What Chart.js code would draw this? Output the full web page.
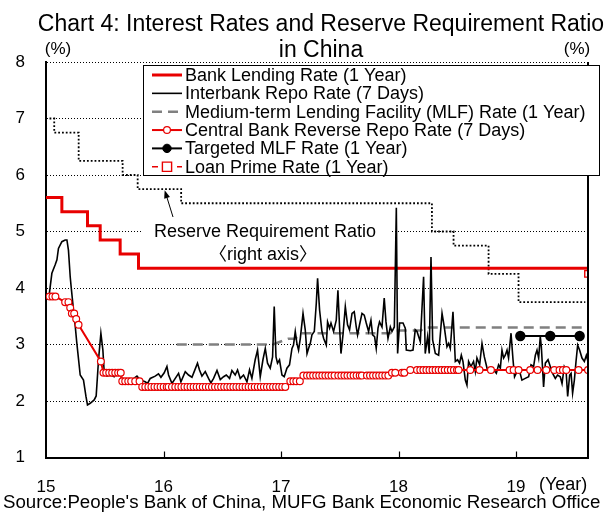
<!DOCTYPE html>
<html>
<head>
<meta charset="utf-8">
<script src="https://cdn.jsdelivr.net/npm/chart.js@4.4.1/dist/chart.umd.min.js"></script>
<style>
  html, body { margin: 0; padding: 0; background: #fff; }
  canvas { display: block; }
</style>
</head>
<body>
<canvas id="chart" width="605" height="513"></canvas>
<script>
// ---- data (x values are calendar years as decimals, 15 = Jan 2015) ----
const yearTicks = [15, 16, 17, 18, 19];
const leftTicks = [1, 2, 3, 4, 5, 6, 7, 8];

// Bank lending rate (1 year): dates of each change and the new rate
const lendingDates = [15.000, 15.135, 15.353, 15.461, 15.631, 15.787, 19.612];
const lendingRates = [5.60, 5.35, 5.10, 4.85, 4.60, 4.35, 4.35];

// Reserve requirement ratio (right axis)
const rrrDates = [15.030, 15.070, 15.278, 15.652, 15.780, 16.150, 18.284, 18.468, 18.766, 19.021, 19.589];
const rrrValues = [20.0, 19.5, 18.5, 18.0, 17.5, 17.0, 16.0, 15.5, 14.5, 13.5, 13.5];

// Interbank repo rate (7 days)
const repoDates = [
  15.027,15.050,15.078,15.093,15.106,15.135,15.163,15.178,15.191,15.206,
  15.214,15.234,15.249,15.261,15.291,15.319,15.340,15.353,15.376,15.410,
  15.427,15.447,15.467,15.484,15.495,15.518,15.546,15.580,15.597,15.626,
  15.646,15.674,15.694,15.723,15.774,15.802,15.844,15.864,15.887,15.929,
  15.957,15.978,16.006,16.029,16.043,16.072,16.100,16.128,16.148,16.185,
  16.213,16.242,16.261,16.289,16.306,16.327,16.355,16.383,16.403,16.426,
  16.455,16.483,16.511,16.534,16.562,16.582,16.610,16.630,16.653,16.681,
  16.710,16.732,16.752,16.780,16.800,16.823,16.846,16.866,16.885,16.908,
  16.928,16.942,16.957,16.970,16.987,17.008,17.027,17.050,17.072,17.093,
  17.106,17.121,17.135,17.149,17.164,17.187,17.206,17.221,17.234,17.249,
  17.263,17.283,17.300,17.311,17.328,17.348,17.362,17.385,17.396,17.413,
  17.425,17.447,17.470,17.484,17.498,17.510,17.527,17.547,17.566,17.583,
  17.604,17.623,17.640,17.651,17.668,17.689,17.708,17.725,17.745,17.765,
  17.779,17.796,17.810,17.825,17.838,17.859,17.878,17.893,17.910,17.930,
  17.944,17.964,17.981,17.992,18.009,18.038,18.057,18.066,18.100,18.123,
  18.142,18.157,18.185,18.213,18.227,18.247,18.261,18.276,18.290,18.313,
  18.341,18.370,18.389,18.412,18.426,18.440,18.463,18.483,18.502,18.519,
  18.534,18.548,18.559,18.568,18.582,18.596,18.616,18.638,18.653,18.667,
  18.690,18.710,18.730,18.753,18.781,18.809,18.832,18.851,18.866,18.880,
  18.894,18.908,18.923,18.936,18.957,18.974,18.987,19.008,19.027,19.050,
  19.078,19.107,19.127,19.149,19.164,19.178,19.192,19.206,19.215,19.234,
  19.249,19.272,19.291,19.311,19.334,19.353,19.376,19.391,19.410,19.425,
  19.439,19.456,19.468,19.481,19.496,19.510,19.524,19.541,19.561,19.581,
  19.598,19.612
];
const repoRates = [
  3.88,4.26,4.41,4.50,4.70,4.82,4.85,4.85,4.67,4.20,
  4.02,3.61,3.32,3.05,2.46,2.37,2.08,1.93,1.96,2.02,
  2.09,2.73,3.20,2.90,2.52,2.44,2.46,2.43,2.52,2.55,
  2.37,2.37,2.38,2.36,2.44,2.37,2.34,2.31,2.40,2.44,
  2.48,2.42,2.50,2.61,2.46,2.31,2.40,2.49,2.34,2.52,
  2.46,2.42,2.52,2.67,2.55,2.44,2.52,2.40,2.32,2.40,
  2.54,2.38,2.43,2.46,2.40,2.54,2.46,2.55,2.40,2.46,
  2.34,2.55,2.40,2.73,2.90,2.43,2.73,2.93,2.67,2.58,
  2.78,3.67,2.78,2.67,2.73,2.46,2.43,2.58,2.64,2.93,
  2.99,3.23,3.02,2.90,3.11,3.55,3.26,2.84,2.93,3.02,
  3.17,3.23,3.73,4.17,3.61,3.23,3.11,2.99,3.40,3.29,
  3.38,3.23,3.43,3.96,3.31,2.84,3.17,3.67,3.35,3.26,
  3.55,3.58,3.31,3.17,3.35,3.55,3.52,3.38,3.23,3.43,
  3.17,3.14,2.93,3.29,3.40,3.31,3.82,3.40,3.11,3.31,
  3.23,3.31,5.42,2.84,3.38,3.38,3.29,2.90,2.89,2.90,
  3.26,3.23,3.05,4.20,2.84,3.14,2.84,4.55,3.08,2.84,
  2.81,3.55,3.31,2.96,3.02,2.93,3.58,2.70,2.73,2.67,
  2.81,2.70,2.52,2.37,2.28,2.70,2.61,2.70,2.52,2.76,
  2.64,3.02,2.78,2.58,2.52,2.55,2.49,2.64,2.58,2.90,
  2.76,2.81,2.90,2.76,3.20,2.73,2.43,2.52,2.55,2.37,
  2.40,2.43,2.64,2.61,2.81,2.90,2.76,3.14,2.96,2.25,
  2.67,2.73,2.61,2.49,2.40,2.46,2.43,2.31,2.61,2.55,
  2.08,2.46,2.49,2.14,2.37,2.70,2.99,2.90,2.76,2.70,
  2.81,2.70
];

// Medium-term lending facility rate (1 year)
const mlfDates = [16.113, 16.930, 17.060, 17.120, 17.170, 17.930, 17.970, 18.190, 18.220, 19.612];
const mlfRates = [3.00, 3.00, 3.10, 3.10, 3.20, 3.20, 3.25, 3.25, 3.30, 3.30];

// Central bank reverse repo rate (7 days): each policy rate with its operation dates
const reverseRepoLevels = [3.85, 3.75, 3.65, 3.55, 3.45, 3.35, 2.70, 2.50, 2.35, 2.25, 2.35, 2.45, 2.50, 2.55];
const reverseRepoOps = [
  [15.030, 15.055, 15.080],
  [15.163, 15.191],
  [15.206],
  [15.220, 15.240],
  [15.257],
  [15.277],
  [15.467],
  [15.489, 15.512, 15.538, 15.563, 15.589, 15.614, 15.636],
  [15.649, 15.674, 15.700, 15.725, 15.759, 15.796],
  [15.819, 15.845, 15.871, 15.897, 15.923, 15.949, 15.975, 16.001, 16.027, 16.043,
   16.072, 16.100, 16.126, 16.152, 16.178, 16.204, 16.230, 16.256, 16.282, 16.308,
   16.334, 16.360, 16.386, 16.412, 16.438, 16.464, 16.490, 16.516, 16.542, 16.568,
   16.594, 16.620, 16.646, 16.672, 16.698, 16.724, 16.750, 16.776, 16.802, 16.828,
   16.854, 16.880, 16.906, 16.932, 16.958, 16.984, 17.010, 17.036],
  [17.079, 17.105, 17.130, 17.160],
  [17.190, 17.221, 17.247, 17.273, 17.299, 17.325, 17.351, 17.377, 17.403, 17.429,
   17.455, 17.487, 17.513, 17.539, 17.565, 17.591, 17.617, 17.643, 17.669, 17.688,
   17.731, 17.757, 17.783, 17.809, 17.835, 17.861, 17.887, 17.913],
  [17.944, 17.972, 18.029, 18.049],
  [18.100, 18.157, 18.185, 18.211, 18.237, 18.263, 18.289, 18.315, 18.341, 18.367,
   18.393, 18.419, 18.445, 18.471, 18.497, 18.511, 18.610, 18.689, 18.786, 18.945,
   18.979, 19.021, 19.120, 19.183, 19.257, 19.325, 19.370, 19.399, 19.427, 19.532,
   19.612]
];

// Targeted MLF rate (1 year)
const tmlfDates = [19.036, 19.291, 19.541];
const tmlfRates = [3.15, 3.15, 3.15];

// Loan prime rate (1 year)
const lprDates = [19.612];
const lprRates = [4.25];

// ---- helpers to build point tables ----
const pairs = (xs, ys) => xs.map((x, i) => ({ x, y: ys[i] }));
const reverseRepoPoints = reverseRepoOps.flatMap((dates, k) =>
  dates.map(x => ({ x, y: reverseRepoLevels[k] })));

const FONT = '"Liberation Sans", Arial, "Noto Sans CJK JP", sans-serif';
const RED = 'rgb(232,0,0)';
const GREY = 'rgb(128,128,128)';

Chart.defaults.font.family = FONT;
Chart.defaults.color = '#000';

const datasets = [
  { label: 'Loan Prime Rate (1 Year)', data: pairs(lprDates, lprRates), yAxisID: 'y',
    borderColor: RED, borderWidth: 1.5, borderDash: [5, 4], showLine: false,
    pointStyle: 'rect', pointRadius: 4.6, pointBorderWidth: 1.4,
    pointBackgroundColor: '#fff', pointBorderColor: RED, order: 0 },
  { label: 'Targeted MLF Rate (1 Year)', data: pairs(tmlfDates, tmlfRates), yAxisID: 'y',
    borderColor: '#000', borderWidth: 2, pointRadius: 4.2,
    pointBackgroundColor: '#000', pointBorderColor: '#000', order: 1 },
  { label: 'Central Bank Reverse Repo Rate (7 Days)', data: reverseRepoPoints, yAxisID: 'y',
    borderColor: RED, borderWidth: 2, pointRadius: 3.4, pointBorderWidth: 1.2,
    pointBackgroundColor: '#fff', pointBorderColor: RED, order: 2 },
  { label: 'Interbank Repo Rate (7 Days)', data: pairs(repoDates, repoRates), yAxisID: 'y',
    borderColor: '#000', borderWidth: 1.6, pointRadius: 0, order: 3 },
  { label: 'Medium-term Lending Facility (MLF) Rate (1 Year)', data: pairs(mlfDates, mlfRates), yAxisID: 'y',
    borderColor: GREY, borderWidth: 2.5, borderDash: [10, 6], pointRadius: 0, order: 4 },
  { label: 'Bank Lending Rate (1 Year)', data: pairs(lendingDates, lendingRates), yAxisID: 'y',
    borderColor: RED, borderWidth: 3, stepped: 'before', pointRadius: 0, order: 5 },
  { label: 'Reserve Requirement Ratio', data: pairs(rrrDates, rrrValues), yAxisID: 'y2',
    borderColor: '#000', borderWidth: 1.8, borderDash: [1.8, 2], stepped: 'before',
    pointRadius: 0, order: 6 }
];

const legendOrder = [
  'Bank Lending Rate (1 Year)',
  'Interbank Repo Rate (7 Days)',
  'Medium-term Lending Facility (MLF) Rate (1 Year)',
  'Central Bank Reverse Repo Rate (7 Days)',
  'Targeted MLF Rate (1 Year)',
  'Loan Prime Rate (1 Year)'
];

function drawMarker(ctx, ds, x, y) {
  ctx.save();
  ctx.setLineDash([]);
  ctx.lineWidth = ds.pointBorderWidth || 1;
  ctx.strokeStyle = ds.pointBorderColor;
  ctx.fillStyle = ds.pointBackgroundColor;
  const r = ds.pointRadius;
  ctx.beginPath();
  if (ds.pointStyle === 'rect') {
    ctx.rect(x - r, y - r, 2 * r, 2 * r);
  } else {
    ctx.arc(x, y, r, 0, Math.PI * 2);
  }
  ctx.fill();
  ctx.stroke();
  ctx.restore();
}

const decor = {
  id: 'decor',
  beforeDatasetsDraw(chart) {
    // white panel behind the reserve-ratio note
    const { ctx } = chart;
    ctx.save();
    ctx.fillStyle = '#fff';
    ctx.fillRect(143, 214, 248, 50);
    ctx.restore();
  },
  afterDatasetsDraw(chart) {
    const { ctx, chartArea: a, scales } = chart;
    ctx.save();

    // right frame line
    ctx.strokeStyle = '#000';
    ctx.lineWidth = 2;
    ctx.beginPath();
    ctx.moveTo(a.right, a.top);
    ctx.lineTo(a.right, a.bottom + 1);
    ctx.stroke();

    // year ticks pointing into the plot
    ctx.lineWidth = 1.2;
    yearTicks.slice(1).forEach(t => {
      const x = Math.round(scales.x.getPixelForValue(t)) + 0.5;
      ctx.beginPath();
      ctx.moveTo(x, a.bottom);
      ctx.lineTo(x, a.bottom - 6);
      ctx.stroke();
    });

    // note for the reserve requirement ratio
    ctx.fillStyle = '#000';
    ctx.font = '18px ' + FONT;
    ctx.textAlign = 'center';
    ctx.textBaseline = 'middle';
    ctx.fillText('Reserve Requirement Ratio', 265, 232);
    ctx.fillText('〈right axis〉', 263, 255);

    // arrow to the ratio line
    const tipX = scales.x.getPixelForValue(16.01);
    const tipY = scales.y2.getPixelForValue(17.5) + 1;
    const fromX = 173, fromY = 217;
    const ang = Math.atan2(tipY - fromY, tipX - fromX);
    ctx.lineWidth = 1;
    ctx.beginPath();
    ctx.moveTo(fromX, fromY);
    ctx.lineTo(tipX - 5 * Math.cos(ang), tipY - 5 * Math.sin(ang));
    ctx.stroke();
    ctx.beginPath();
    ctx.moveTo(tipX, tipY);
    ctx.lineTo(tipX - 8 * Math.cos(ang) + 3 * Math.sin(ang), tipY - 8 * Math.sin(ang) - 3 * Math.cos(ang));
    ctx.lineTo(tipX - 8 * Math.cos(ang) - 3 * Math.sin(ang), tipY - 8 * Math.sin(ang) + 3 * Math.cos(ang));
    ctx.closePath();
    ctx.fill();

    // legend panel
    const bx = 143.5, by = 65.5, bw = 456, bh = 110;
    ctx.fillStyle = '#fff';
    ctx.fillRect(bx, by, bw, bh);
    ctx.strokeStyle = '#000';
    ctx.lineWidth = 1;
    ctx.strokeRect(bx, by, bw, bh);

    ctx.textAlign = 'left';
    ctx.font = '18px ' + FONT;
    legendOrder.forEach((label, i) => {
      const ds = chart.data.datasets.find(d => d.label === label);
      const y = 75 + i * 18.35;
      const x0 = 152, x1 = 182, xm = (x0 + x1) / 2;
      ctx.save();
      ctx.strokeStyle = ds.borderColor;
      ctx.lineWidth = ds.borderWidth;
      ctx.setLineDash(ds.borderDash || []);
      ctx.beginPath();
      if (ds.pointStyle === 'rect') {
        ctx.setLineDash([]);
        ctx.moveTo(x0, y); ctx.lineTo(x0 + 6, y);
        ctx.moveTo(x1 - 5, y); ctx.lineTo(x1, y);
      } else {
        ctx.moveTo(x0, y); ctx.lineTo(x1, y);
      }
      ctx.stroke();
      ctx.restore();
      if (ds.pointRadius > 0) {
        drawMarker(ctx, ds, xm, y);
      }
      ctx.fillStyle = '#000';
      ctx.fillText(label, 185, y + 1);
    });

    ctx.restore();
  },
  afterDraw(chart) {
    const { ctx } = chart;
    ctx.save();
    ctx.fillStyle = '#000';
    ctx.textBaseline = 'alphabetic';

    // title
    ctx.textAlign = 'center';
    ctx.font = '23px ' + FONT;
    ctx.fillText('Chart 4: Interest Rates and Reserve Requirement Ratio', 321, 31);
    ctx.fillText('in China', 321, 57);

    // unit labels
    ctx.font = '17px ' + FONT;
    ctx.fillText('(%)', 58, 54);
    ctx.fillText('(%)', 577, 54);

    // year marker and source
    ctx.textAlign = 'left';
    ctx.font = '18px ' + FONT;
    ctx.textBaseline = 'middle';
    ctx.fillText('(Year)', 539, 485);
    ctx.font = '18.7px ' + FONT;
    ctx.fillText("Source:People's Bank of China, MUFG Bank Economic Research Office", 3, 503);
    ctx.restore();
  }
};

new Chart(document.getElementById('chart'), {
  type: 'line',
  data: { datasets },
  options: {
    responsive: false,
    animation: false,
    layout: { padding: { top: 62, right: 17, left: 0, bottom: 0 } },
    elements: { line: { tension: 0 } },
    plugins: { legend: { display: false }, title: { display: false }, tooltip: { enabled: false } },
    scales: {
      x: {
        type: 'linear', min: 15, max: 19.612,
        afterBuildTicks: s => { s.ticks = yearTicks.map(v => ({ value: v })); },
        afterFit: s => { s.height = 55.5; },
        grid: { display: false, drawTicks: false },
        border: { display: true, color: '#000', width: 2 },
        ticks: { autoSkip: false, maxRotation: 0, padding: 20, font: { size: 17 }, color: '#000',
                 callback: v => String(v) }
      },
      y: {
        type: 'linear', min: 1, max: 8, position: 'left',
        afterBuildTicks: s => { s.ticks = leftTicks.map(v => ({ value: v })); },
        afterFit: s => { s.width = 46; },
        grid: { color: '#000', lineWidth: 1, drawTicks: false },
        border: { display: true, color: '#000', width: 2, dash: [1, 2] },
        ticks: { padding: 21, font: { size: 17 }, color: '#000', callback: v => String(v) }
      },
      y2: { type: 'linear', min: 8, max: 22, position: 'right', display: false }
    }
  },
  plugins: [decor]
});
</script>
</body>
</html>
